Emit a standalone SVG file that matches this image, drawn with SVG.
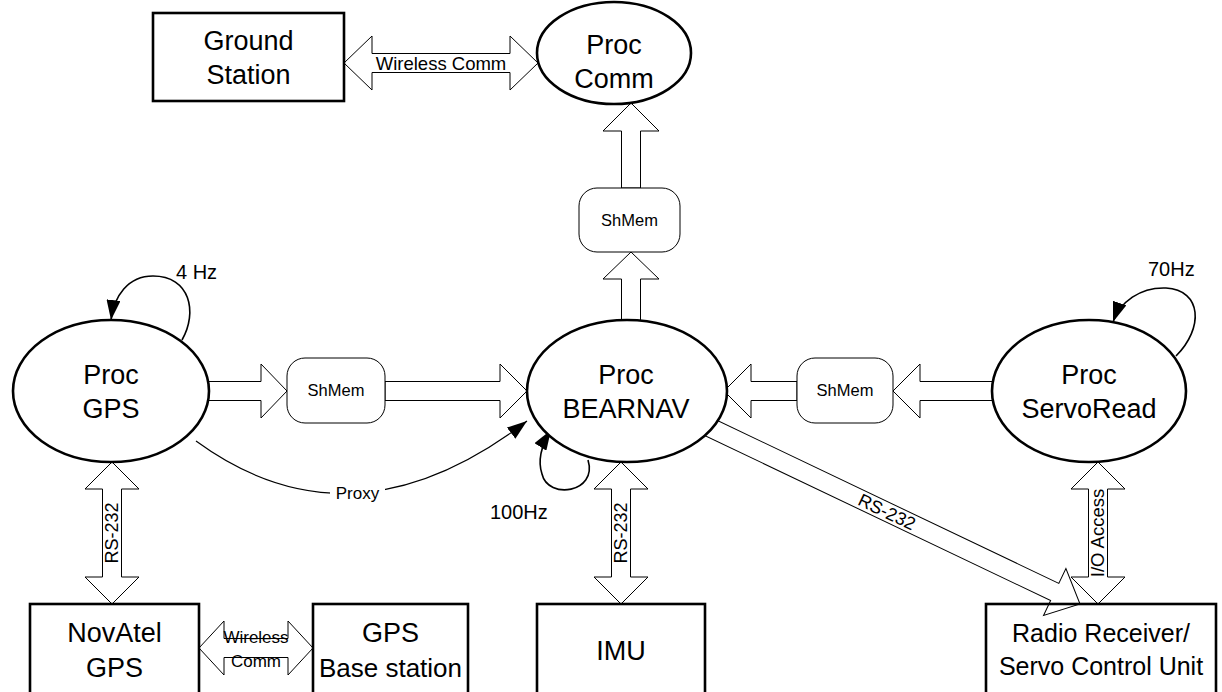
<svg xmlns="http://www.w3.org/2000/svg" width="1222" height="692" viewBox="0 0 1222 692">
  <defs>
    <style>
      .node { fill: #fff; stroke: #000; stroke-width: 2.6; }
      .box { fill: none; stroke: #000; stroke-width: 2.6; }
      .mem { fill: #fff; stroke: #000; stroke-width: 1; }
      .fat { fill: #fff; stroke: #000; stroke-width: 1; }
      .thin { fill: none; stroke: #000; stroke-width: 1.2; }
      .loop { fill: none; stroke: #000; stroke-width: 1.6; }
      .big { font-family: "Liberation Sans", Arial, sans-serif; font-size: 27px; text-anchor: middle; fill: #000; }
      .mid { font-family: "Liberation Sans", Arial, sans-serif; font-size: 25px; text-anchor: middle; fill: #000; }
      .rate { font-family: "Liberation Sans", Arial, sans-serif; font-size: 20px; fill: #000; }
      .mtx { font-family: "Liberation Sans", Arial, sans-serif; font-size: 16.5px; text-anchor: middle; fill: #000; }
      .lbl { font-family: "Liberation Sans", Arial, sans-serif; font-size: 17px; text-anchor: middle; fill: #000; }
    </style>
    <marker id="tri" viewBox="0 0 20 14" refX="20" refY="7" markerWidth="20" markerHeight="14" markerUnits="userSpaceOnUse" orient="auto">
      <path d="M0,0 L20,7 L0,14 Z" fill="#000"/>
    </marker>
  </defs>

  <!-- connectors (drawn under the process ellipses) -->
  <g id="connectors">
    <!-- Ground Station <-> Proc Comm -->
    <path class="fat" d="M344,63 L372,36 V53.5 H510 V36 L538,63 L510,90 V72.5 H372 V90 Z"/>
    <text class="lbl" x="441" y="69.5" style="font-size:18.5px">Wireless Comm</text>

    <!-- BEARNAV -> ShMem -> Proc Comm -->
    <path class="fat" d="M621.5,330 V279 H603 L631,252 L659,279 H640.5 V330 Z"/>
    <path class="fat" d="M621.5,188 V131 H603 L631,103 L659,131 H640.5 V188 Z"/>

    <!-- Proc GPS -> ShMem -> BEARNAV -->
    <path class="fat" d="M200,381.5 H261 V364 L287,391 L261,418 V400.5 H200 Z"/>
    <path class="fat" d="M385,381.5 H500 V364 L527,391 L500,418 V400.5 H385 Z"/>

    <!-- ServoRead -> ShMem -> BEARNAV -->
    <path class="fat" d="M1000,381.5 H920 V364 L893,391 L920,418 V400.5 H1000 Z"/>
    <path class="fat" d="M797,381.5 H751 V364 L724,391 L751,418 V400.5 H797 Z"/>

    <!-- Proc GPS <-> NovAtel GPS -->
    <path class="fat" d="M85,489 L112,462 L139,489 H121.5 V577 H139 L112,604 L85,577 H102.5 V489 Z"/>
    <text class="lbl" transform="translate(112,533) rotate(-90)" y="6.2" style="font-size:18px">RS-232</text>

    <!-- BEARNAV <-> IMU -->
    <path class="fat" d="M594,489 L621,462 L648,489 H630.5 V577 H648 L621,604 L594,577 H611.5 V489 Z"/>
    <text class="lbl" transform="translate(621,533) rotate(-90)" y="6.2" style="font-size:18px">RS-232</text>

    <!-- ServoRead <-> Radio Receiver -->
    <path class="fat" d="M1071,489 L1098,462 L1125,489 H1107.5 V577 H1125 L1098,604 L1071,577 H1088.5 V489 Z"/>
    <text class="lbl" transform="translate(1098,533) rotate(-90)" y="6.2" style="font-size:18.5px">I/O Access</text>

    <!-- BEARNAV -> Radio Receiver -->
    <g transform="translate(1080,604) rotate(25.5)">
      <path class="fat" d="M-430,-9.5 H-28 V-26 L0,0 L-28,26 V9.5 H-430 Z"/>
      <text class="lbl" x="-214" y="6.2" style="font-size:18px">RS-232</text>
    </g>

    <!-- NovAtel GPS <-> GPS Base station -->
    <path class="fat" d="M199,648 L224,621 V638.5 H288 V621 L313,648 L288,675 V657.5 H224 V675 Z"/>
    <text class="lbl" x="256" y="643">Wireless</text>
    <text class="lbl" x="256" y="667">Comm</text>

    <!-- Proxy link -->
    <path class="thin" d="M196,441 Q352,555 527,421" marker-end="url(#tri)"/>
    <rect x="330" y="481" width="55" height="22" fill="#fff"/>
    <text class="lbl" x="357.5" y="498.5">Proxy</text>

    <!-- rate loops -->
    <path class="loop" d="M182,340 C198,312 190,276 153,276 C128,276 114,296 111,320" marker-end="url(#tri)"/>
    <text class="rate" x="176" y="279">4 Hz</text>

    <path class="loop" d="M1176,356 C1204,328 1202,290 1166,288 C1140,287 1120,302 1113,322" marker-end="url(#tri)"/>
    <text class="rate" x="1148" y="276">70Hz</text>

    <path class="loop" d="M588,460 C598,493 548,500 542,474 C538,462 541,446 551,430" marker-end="url(#tri)"/>
    <text class="rate" x="490" y="519">100Hz</text>
  </g>

  <!-- nodes -->
  <g id="ground-station">
    <rect class="box" x="153" y="13" width="191" height="88"/>
    <text class="big" x="248.5" y="50">Ground</text>
    <text class="big" x="248.5" y="84">Station</text>
  </g>

  <g id="proc-comm">
    <ellipse class="node" cx="614" cy="53" rx="77" ry="51"/>
    <text class="big" x="614" y="54">Proc</text>
    <text class="big" x="614" y="88">Comm</text>
  </g>

  <g id="shmem-comm">
    <rect class="mem" x="579" y="188" width="101" height="64" rx="18"/>
    <text class="mtx" x="629.5" y="226">ShMem</text>
  </g>

  <g id="proc-gps">
    <ellipse class="node" cx="111" cy="391" rx="98" ry="71"/>
    <text class="big" x="111" y="384">Proc</text>
    <text class="big" x="111" y="418">GPS</text>
  </g>

  <g id="shmem-gps">
    <rect class="mem" x="287" y="358" width="98" height="65" rx="18"/>
    <text class="mtx" x="336" y="396">ShMem</text>
  </g>

  <g id="proc-bearnav">
    <ellipse class="node" cx="627" cy="391" rx="100" ry="71"/>
    <text class="big" x="626" y="384">Proc</text>
    <text class="big" x="626" y="418">BEARNAV</text>
  </g>

  <g id="shmem-servo">
    <rect class="mem" x="797" y="358" width="96" height="65" rx="18"/>
    <text class="mtx" x="845" y="396">ShMem</text>
  </g>

  <g id="proc-servoread">
    <ellipse class="node" cx="1089" cy="391" rx="97" ry="71"/>
    <text class="big" x="1089" y="384">Proc</text>
    <text class="big" x="1089" y="418">ServoRead</text>
  </g>

  <g id="novatel-gps">
    <rect class="box" x="30" y="604" width="169" height="100"/>
    <text class="big" x="114.5" y="642">NovAtel</text>
    <text class="big" x="114.5" y="677">GPS</text>
  </g>

  <g id="gps-base-station">
    <rect class="box" x="313" y="604" width="155" height="100"/>
    <text class="big" x="390.5" y="642">GPS</text>
    <text class="big" x="390.5" y="677" style="font-size:26px">Base station</text>
  </g>

  <g id="imu">
    <rect class="box" x="537" y="604" width="168" height="100"/>
    <text class="big" x="621" y="660">IMU</text>
  </g>

  <g id="radio-receiver">
    <rect class="box" x="986" y="604" width="230" height="100"/>
    <text class="mid" x="1101" y="642">Radio Receiver/</text>
    <text class="mid" x="1101" y="675">Servo Control Unit</text>
  </g>
</svg>
